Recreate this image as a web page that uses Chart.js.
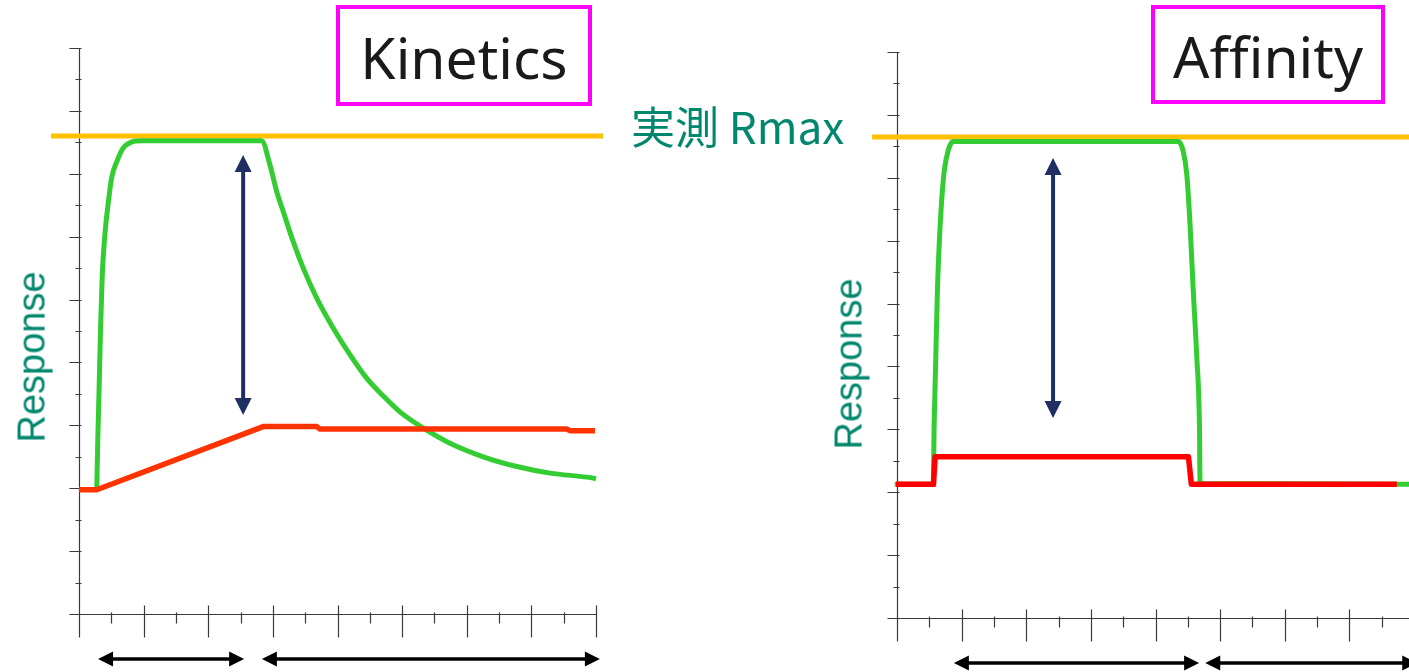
<!DOCTYPE html>
<html>
<head>
<meta charset="utf-8">
<script src="https://cdn.jsdelivr.net/npm/chart.js@4.4.0/dist/chart.umd.min.js"></script>
<style>
  html, body { margin: 0; padding: 0; background: #ffffff; width: 1409px; height: 672px; overflow: hidden; }
  .wrap { position: relative; width: 1409px; height: 672px; overflow: hidden; }
  canvas { position: absolute; top: 0; }
  #kinCanvas { left: 0; }
  #affCanvas { left: 700px; }
  .panelTitle {
    position: absolute; box-sizing: border-box; border: 4px solid #FF00FF;
    display: flex; align-items: center; justify-content: center;
    font-family: "Noto Sans", "Open Sans", sans-serif; font-size: 57px; color: #1a1a1a;
    line-height: 1; padding-top: 4px;
  }
  .rmaxLabel {
    position: absolute; left: 631px; top: 103px; white-space: nowrap;
    font-family: "Noto Sans CJK JP", "Noto Sans", sans-serif; font-size: 44px; color: #00876E;
    line-height: 1;
  }
  .yTitle {
    position: absolute; white-space: nowrap; transform-origin: center center;
    font-family: "Liberation Sans", Arial, sans-serif; font-size: 38px; color: #00876E; line-height: 1;
  }
</style>
</head>
<body>
<div class="wrap">
  <canvas id="kinCanvas" width="700" height="672"></canvas>
  <canvas id="affCanvas" width="760" height="672"></canvas>
  <div class="panelTitle" style="left:336px; top:5px; width:256px; height:101px;">Kinetics</div>
  <div class="panelTitle" style="left:1151px; top:5px; width:234px; height:99px;">Affinity</div>
  <div class="rmaxLabel">実測 Rmax</div>
  <div class="yTitle" id="kinY">Response</div>
  <div class="yTitle" id="affY">Response</div>
</div>
<script>
// ---- Kinetics panel: sensorgram of a fast-dissociating high-affinity binder and a slow one ----
const kinFastX = [0.55, 0.58, 0.62, 0.67, 0.72, 0.80, 0.91, 1.01, 1.17, 1.37, 1.63, 1.94, 5.65, 5.91, 6.12, 6.32, 6.63, 6.94, 7.36, 7.87, 8.39, 8.90, 9.42, 9.94, 10.66, 11.48, 12.51, 13.55, 14.58, 15.92, 16.00];
const kinFastY = [3.97, 5.48, 7.07, 9.19, 10.78, 12.05, 13.11, 13.87, 14.39, 14.82, 15.01, 15.05, 15.05, 14.28, 13.43, 12.80, 11.84, 11.00, 10.04, 9.09, 8.24, 7.50, 6.93, 6.42, 5.91, 5.43, 5.00, 4.69, 4.48, 4.32, 4.30];
const kinSlowX = [0.00, 0.55, 5.70, 7.36, 7.46, 15.09, 15.20, 15.97];
const kinSlowY = [3.95, 3.95, 5.96, 5.96, 5.88, 5.88, 5.83, 5.83];
const kinRmaxX = [-0.87, 16.22];
const kinRmaxY = [15.2, 15.2];

// ---- Affinity panel: steady-state responses ----
const affFastX = [-0.07, 1.12, 1.15, 1.20, 1.25, 1.31, 1.38, 1.46, 1.59, 1.74, 8.71, 8.86, 8.97, 9.07, 9.17, 9.28, 9.36, 9.38, 16.50];
const affFastY = [4.25, 4.25, 6.14, 8.26, 10.38, 11.97, 13.24, 14.20, 14.89, 15.15, 15.15, 14.83, 14.09, 12.50, 10.38, 8.26, 6.14, 4.28, 4.25];
const affSlowX = [-0.03, 1.13, 1.18, 9.02, 9.11, 15.47];
const affSlowY = [4.25, 4.25, 5.13, 5.13, 4.25, 4.25];
const affRmaxX = [-0.77, 16.3];
const affRmaxY = [15.3, 15.3];

// axis tick positions (in axis units; even values get the long tick)
const xTickValues = [0, 1, 2, 3, 4, 5, 6, 7, 8, 9, 10, 11, 12, 13, 14, 15, 16];
const yTickValues = [0, 1, 2, 3, 4, 5, 6, 7, 8, 9, 10, 11, 12, 13, 14, 15, 16, 17, 18];

// annotation arrows, in axis units
const kinDropArrow = { x: 5.08, from: 14.6, to: 6.33 };
const kinPhaseArrows = [[0.59, 5.11], [5.66, 16.12]];
const affDropArrow = { x: 4.83, from: 14.63, to: 6.36 };
const affPhaseArrows = [[1.76, 9.35], [9.54, 16.1]];
const phaseArrowLevel = -1.43;

const zip = (xs, ys) => xs.map((x, i) => ({ x: x, y: ys[i] }));

function arrowHead(ctx, tipX, tipY, dx, dy, len, width) {
  const bx = tipX - dx * len, by = tipY - dy * len;
  const px = -dy * width / 2, py = dx * width / 2;
  ctx.beginPath();
  ctx.moveTo(tipX, tipY);
  ctx.lineTo(bx + px, by + py);
  ctx.lineTo(bx - px, by - py);
  ctx.closePath();
  ctx.fill();
}

function doubleArrow(ctx, x1, y1, x2, y2, lw, len, width, color) {
  const L = Math.hypot(x2 - x1, y2 - y1);
  const dx = (x2 - x1) / L, dy = (y2 - y1) / L;
  ctx.save();
  ctx.strokeStyle = color; ctx.fillStyle = color; ctx.lineWidth = lw; ctx.lineCap = 'butt';
  ctx.beginPath();
  ctx.moveTo(x1 + dx * (len - 1), y1 + dy * (len - 1));
  ctx.lineTo(x2 - dx * (len - 1), y2 - dy * (len - 1));
  ctx.stroke();
  arrowHead(ctx, x2, y2, dx, dy, len, width);
  arrowHead(ctx, x1, y1, -dx, -dy, len, width);
  ctx.restore();
}

const frame = {
  id: 'sensorFrame',
  beforeDatasetsDraw(chart, args, opts) {
    const ctx = chart.ctx, xs = chart.scales.x, ys = chart.scales.y;
    const ax = Math.round(xs.getPixelForValue(0)) + 0.5;
    const ay = Math.round(ys.getPixelForValue(0)) + 0.5;
    ctx.save();
    ctx.strokeStyle = '#3a3a3a';
    ctx.lineWidth = 1.2;
    ctx.beginPath();
    ctx.moveTo(ax, ys.getPixelForValue(18));
    ctx.lineTo(ax, ay);
    ctx.moveTo(ax, ay);
    ctx.lineTo(xs.getPixelForValue(opts.xEnd), ay);
    yTickValues.forEach(v => {
      const py = Math.round(ys.getPixelForValue(v)) + 0.5;
      const major = v % 2 === 0;
      ctx.moveTo(ax - (major ? 10 : 4), py);
      ctx.lineTo(ax + 2, py);
    });
    xTickValues.forEach(v => {
      const px = Math.round(xs.getPixelForValue(v)) + 0.5;
      const major = v % 2 === 0;
      ctx.moveTo(px, ay - (major ? 9 : 2));
      ctx.lineTo(px, ay + (major ? 23 : 9));
    });
    ctx.stroke();
    ctx.restore();
  },
  afterDatasetsDraw(chart, args, opts) {
    const ctx = chart.ctx, xs = chart.scales.x, ys = chart.scales.y;
    const d = opts.drop;
    const bx = xs.getPixelForValue(d.x);
    doubleArrow(ctx, bx, ys.getPixelForValue(d.from), bx, ys.getPixelForValue(d.to), 4, 17, 17, '#1F2F63');
    const py = ys.getPixelForValue(phaseArrowLevel);
    opts.phases.forEach(p => {
      doubleArrow(ctx, xs.getPixelForValue(p[0]), py, xs.getPixelForValue(p[1]), py, 3.5, 15, 15, '#000000');
    });
  }
};

function lineSet(label, xs, ys, color, width, smooth) {
  return {
    label: label, data: zip(xs, ys), borderColor: color, borderWidth: width,
    pointRadius: 0, fill: false, clip: false,
    tension: smooth ? 0.4 : 0,
    cubicInterpolationMode: smooth ? 'monotone' : 'default',
    borderJoinStyle: 'round', borderCapStyle: 'butt'
  };
}

function makeChart(id, sets, pad, xEnd, drop, phases) {
  return new Chart(document.getElementById(id), {
    type: 'line',
    data: { datasets: sets },
    options: {
      responsive: false, animation: false, events: [],
      layout: { padding: pad },
      scales: {
        x: { type: 'linear', min: 0, max: 16, display: false },
        y: { type: 'linear', min: 0, max: 18, display: false }
      },
      plugins: {
        legend: { display: false }, tooltip: { enabled: false },
        sensorFrame: { xEnd: xEnd, drop: drop, phases: phases }
      }
    },
    plugins: [frame]
  });
}

// first dataset is painted on top
makeChart('kinCanvas', [
  lineSet('低親和性', kinSlowX, kinSlowY, '#FF3300', 5.5, false),
  lineSet('高親和性', kinFastX, kinFastY, '#33CC33', 5, true),
  lineSet('実測 Rmax', kinRmaxX, kinRmaxY, '#FFC000', 5, false)
], { left: 79, right: 104, top: 48, bottom: 58 }, 16, kinDropArrow, kinPhaseArrows);

makeChart('affCanvas', [
  lineSet('低親和性', affSlowX, affSlowY, '#FF0000', 5.5, false),
  lineSet('高親和性', affFastX, affFastY, '#33CC33', 5, true),
  lineSet('実測 Rmax', affRmaxX, affRmaxY, '#FFC000', 5, false)
], { left: 197, right: 46, top: 52, bottom: 54 }, 16, affDropArrow, affPhaseArrows);

// rotated axis titles, centred on their positions beside each y axis
function placeTitle(id, cx, cy) {
  const el = document.getElementById(id);
  const w = el.offsetWidth, h = el.offsetHeight;
  el.style.left = (cx - w / 2) + 'px';
  el.style.top = (cy - h / 2) + 'px';
  el.style.transform = 'rotate(-90deg)';
}
placeTitle('kinY', 31, 357);
placeTitle('affY', 848, 364);
</script>
</body>
</html>
